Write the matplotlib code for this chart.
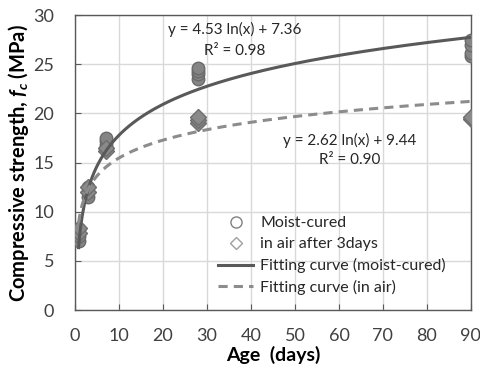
import numpy as np
import matplotlib
matplotlib.use("Agg")
import matplotlib.pyplot as plt

plt.rcParams['font.family'] = ['Lato', 'DejaVu Sans']
plt.rcParams['mathtext.fontset'] = 'custom'
plt.rcParams['mathtext.it'] = 'Lato:italic:bold'
plt.rcParams['mathtext.rm'] = 'Lato:bold'

# Data
moist_age = [1, 1, 1, 3, 3, 3, 7, 7, 7, 28, 28, 28, 28, 90, 90, 90, 90]
moist_fc = [7.0, 7.5, 8.2, 11.5, 12.0, 12.5, 16.8, 17.2, 17.5, 23.5, 24.0, 24.3, 24.6, 25.8, 26.2, 27.0, 27.5]
air_age = [1, 1, 3, 3, 7, 7, 28, 28, 28, 90, 90]
air_fc = [7.8, 8.3, 12.0, 12.5, 16.2, 16.5, 19.0, 19.3, 19.6, 19.4, 19.6]

# Fitted curves y = a ln(x) + b (coefficients as shown on chart)
fit_moist = (4.53, 7.36)
fit_air = (2.62, 9.44)
x_ticks = [0, 10, 20, 30, 40, 50, 60, 70, 80, 90]
y_ticks = [0, 5, 10, 15, 20, 25, 30]

fig = plt.figure(figsize=(4.81, 3.70), dpi=100)
ax = fig.add_axes([0.156, 0.162, 0.823, 0.797])

xs = np.linspace(0.8, 90, 400)
ax.plot(moist_age, moist_fc, linestyle='none', marker='o', markersize=9,
        markerfacecolor='#858585', markeredgecolor='#6a6a6a', markeredgewidth=1, zorder=3)
ax.plot(air_age, air_fc, linestyle='none', marker='D', markersize=8,
        markerfacecolor='#8a8a8a', markeredgecolor='#6e6e6e', markeredgewidth=1, zorder=3)
ax.plot(xs, fit_moist[0] * np.log(xs) + fit_moist[1], color='#595959', lw=2.2, zorder=4)
ax.plot(xs, fit_air[0] * np.log(xs) + fit_air[1], color='#8c8c8c', lw=2.2,
        dashes=(3, 2), zorder=4)

# legend handles
h1, = ax.plot([], [], linestyle='none', marker='o', markersize=8, markerfacecolor='white',
              markeredgecolor='#808080', markeredgewidth=1)
h2, = ax.plot([], [], linestyle='none', marker='D', markersize=6.5, markerfacecolor='white',
              markeredgecolor='#a0a0a0', markeredgewidth=1)
h3, = ax.plot([], [], color='#595959', lw=2.2)
h4, = ax.plot([], [], color='#8c8c8c', lw=2.2, dashes=(3, 2))
leg = ax.legend([h1, h2, h3, h4],
                ['Moist-cured', 'in air after 3days', 'Fitting curve (moist-cured)', 'Fitting curve (in air)'],
                loc='upper left', bbox_to_anchor=(0.361, 0.318), frameon=False, fontsize=11.5,
                handlelength=2.2, handletextpad=0.45, labelspacing=0.42, borderpad=0,
                borderaxespad=0)
for t in leg.get_texts():
    t.set_color('#262626')

ax.text(0.404, 0.953, 'y = 4.53 ln(x) + 7.36', transform=ax.transAxes, ha='center', va='center',
        fontsize=11, color='#262626')
ax.text(0.404, 0.878, 'R² = 0.98', transform=ax.transAxes, ha='center', va='center',
        fontsize=11, color='#262626')
ax.text(0.694, 0.576, 'y = 2.62 ln(x) + 9.44', transform=ax.transAxes, ha='center', va='center',
        fontsize=11, color='#262626')
ax.text(0.694, 0.508, 'R² = 0.90', transform=ax.transAxes, ha='center', va='center',
        fontsize=11, color='#262626')

ax.set_xlim(0, 90)
ax.set_ylim(0, 30)
ax.set_xticks(x_ticks)
ax.set_yticks(y_ticks)
ax.grid(True, color='#d9d9d9', lw=1)
ax.set_axisbelow(True)
ax.tick_params(direction='in', length=4, color='#595959', labelsize=13, labelcolor='#404040')
ax.tick_params(axis='y', pad=15)
ax.tick_params(axis='x', pad=13)
for s in ax.spines.values():
    s.set_color('#595959')
    s.set_linewidth(1)

ax.set_xlabel('Age  (days)', fontsize=14, fontweight='bold', labelpad=1)
ax.set_ylabel(r'Compressive strength, $f_c$ (MPa)', fontsize=14.5, fontweight='bold', labelpad=2)

fig.savefig('out.png', dpi=100)
